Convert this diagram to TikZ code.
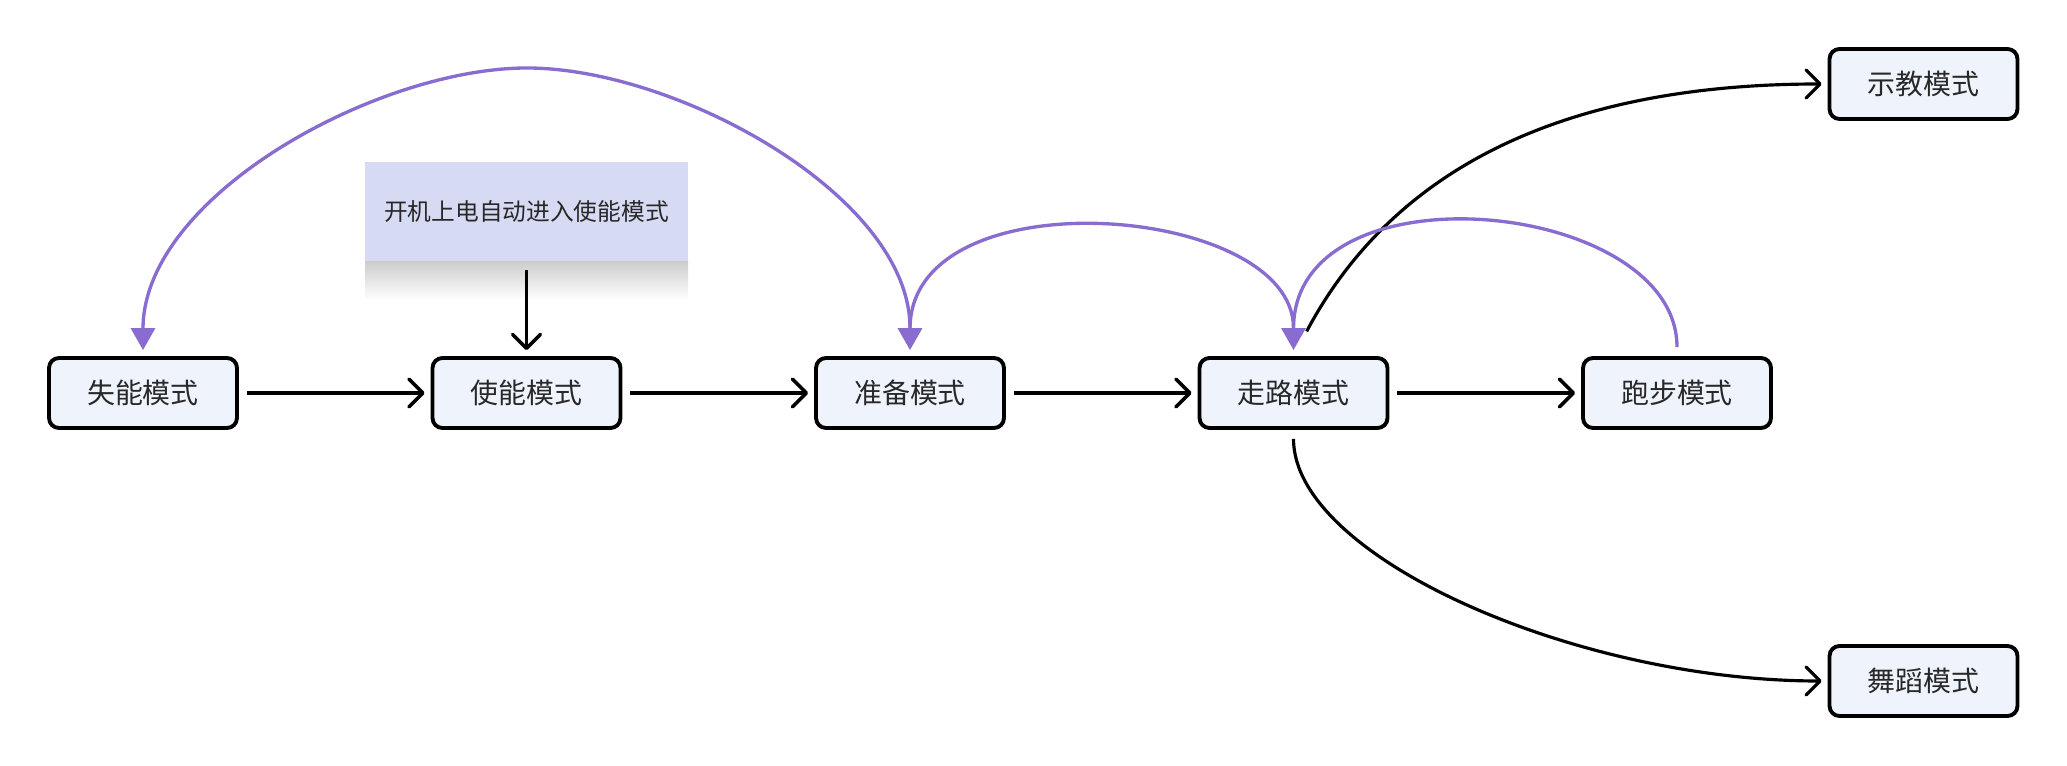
\documentclass[tikz,border=0pt]{standalone}
\usepackage{fontspec}
\newfontfamily\cjk{Noto Sans CJK SC}
\usepackage{tikz}
\usetikzlibrary{arrows.meta}
\usetikzlibrary{positioning,fadings}
\definecolor{modeFill}{RGB}{238,243,252}
\definecolor{noteFill}{RGB}{214,218,243}
\definecolor{backLine}{RGB}{137,108,207}
\definecolor{textGray}{RGB}{40,40,40}
% shadow under the note fades out to the sides
\pgfdeclarehorizontalshading{sidefadeshade}{100bp}{color(0bp)=(black); color(22bp)=(white); color(78bp)=(white); color(100bp)=(black)}
\pgfdeclarefading{sidefade}{\pgfuseshading{sidefadeshade}}
\tikzset{
    mode/.style={
        ,   rectangle
        ,   rounded corners=0.2cm
        ,   draw=black
        ,   line width=2.2pt
        ,   fill=modeFill
        ,   text=textGray
        ,   minimum width=3.76cm
        ,   minimum height=1.4cm
        ,   font={\cjk\fontsize{15.9pt}{19pt}\selectfont}
    },
    note/.style={
        ,   rectangle
        ,   fill=noteFill
        ,   text=textGray
        ,   minimum width=6.46cm
        ,   minimum height=1.98cm
        ,   font={\cjk\fontsize{13.5pt}{16pt}\selectfont}
    },
    flow/.style={
        ,   ->
        ,   draw=black
        ,   line width=2pt
        ,   shorten <=0.16cm
        ,   shorten >=0.12cm
    },
    back/.style={
        ,   -{Triangle[length=0.44cm,width=0.48cm]}
        ,   draw=backLine
        ,   line width=1.9pt
        ,   shorten >=0.12cm
    }
}

\begin{document}
\begin{tikzpicture}[x=0.02cm,y=-0.02cm
				,>={Straight Barb[length=0.28cm,width=0.56cm,round]}]
		\useasboundingbox (0,0) rectangle (2067,766);

		\foreach \name/\txt [count=\i from 0] in {disable/失能模式,enable/使能模式,ready/准备模式,walk/走路模式,run/跑步模式}{
			\node[mode] (\name) at (143+383.5*\i,393) {\txt};
		}
		\node[mode] (teach) at (1923.5,84) {示教模式};
		\node[mode] (dance) at (1923.5,681) {舞蹈模式};

		% note with its shadow
		\shade[top color=black!20,bottom color=white,path fading=sidefade]
			(365,261) rectangle (688,300);
		\node[note] (powerOn) at (526.5,211.5) {开机上电自动进入使能模式};
		\draw[flow,shorten <=0.18cm] (powerOn) -- (enable);

		\foreach \a/\b in {disable/enable,ready/walk,enable/ready,walk/run}{
			\draw[flow] (\a) -- (\b);
		}
		\draw[flow,line width=1.8pt,shorten <=0.56cm] (walk.north) to [out=62,in=180,looseness=1] (teach.west);
		\draw[flow,line width=1.8pt,shorten <=0.18cm] (walk.south) to [out=-90,in=180,out looseness=0.55,in looseness=1.09] (dance.west);

		\draw[back,shorten <=0.56cm] (ready.north) .. controls +(0,-160) and +(150,0) .. (527,68)
			.. controls +(-150,0) and +(0,-160) .. (disable.north);
		\draw[back,shorten <=0.56cm] (walk.north) to [out=90,in=90,out looseness=1.02,in looseness=1.22] (ready.north);
		\draw[back,shorten <=0.18cm] (run.north) to [out=90,in=90,out looseness=1.05,in looseness=1.3] (walk.north);
\end{tikzpicture}
\end{document}
